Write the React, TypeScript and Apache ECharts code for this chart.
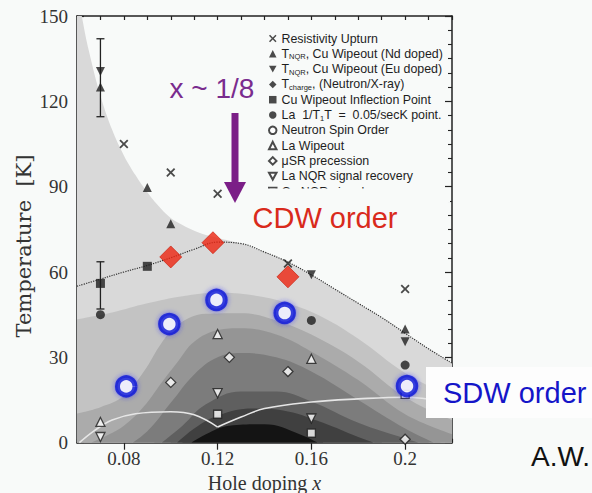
import React, { useEffect, useRef } from "react";
import * as echarts from "echarts";

// ---------- data ----------
const resistivityUpturn = [[0.08, 105], [0.10, 95], [0.12, 87.5], [0.15, 63], [0.20, 54]];
const nqrNdDoped = [[0.07, 125], [0.09, 89.7], [0.10, 77], [0.20, 40]];
const nqrEuDoped = [[0.07, 130.5], [0.16, 59], [0.20, 35.5]];
const tCharge: number[][] = [];
const cuWipeoutInflection = [[0.07, 56], [0.09, 62]];
const la1T1T = [[0.07, 45], [0.16, 43], [0.20, 27.3]];
const neutronSpinOrder: number[][] = [];
const laWipeout = [[0.07, 7.3], [0.12, 38.2], [0.16, 29.5]];
const muSR = [[0.10, 21.2], [0.125, 30], [0.15, 25], [0.20, 1.2]];
const laNqrRecovery = [[0.07, 2], [0.12, 17.4], [0.16, 8.5]];
const cuNqrRecovery = [[0.12, 10], [0.16, 3.4], [0.20, 17]];
const cdwPoints = [[0.10, 65.3], [0.118, 70.3], [0.15, 58.3]];
const sdwPoints = [[0.081, 19.8], [0.0994, 41.7], [0.1195, 50.2], [0.1486, 45.6], [0.2008, 19.9]];
const errorBars = [[0.07, 114.6, 142], [0.07, 47, 63.6]];

// phase-diagram band boundaries (upper edges), lightest to darkest
const lightRegionTop = [[0.06, 160], [0.0625, 148], [0.065, 138], [0.07, 122], [0.075, 110], [0.08, 101], [0.085, 94], [0.09, 88], [0.095, 83], [0.1, 79], [0.105, 76.5], [0.11, 74.5], [0.115, 73], [0.12, 72], [0.13, 70], [0.14, 67], [0.15, 63.5], [0.16, 59], [0.17, 54], [0.18, 49], [0.19, 44], [0.2, 38.5], [0.21, 33], [0.22, 28]];
const bandA = [[0.06, 43.4], [0.075, 45.8], [0.09, 49], [0.105, 51.5], [0.12, 52.7], [0.135, 51.8], [0.15, 49], [0.165, 44], [0.18, 36.5], [0.2, 24.5], [0.22, 16]];
const bandB = [[0.06, 10.3], [0.07, 12.5], [0.08, 16.5], [0.0885, 25], [0.096, 35], [0.103, 41.5], [0.115, 45.3], [0.13, 45.5], [0.145, 43], [0.16, 38], [0.18, 28.5], [0.2, 16], [0.22, 8]];
const bandC = [[0.06, -2], [0.07, 1.5], [0.08, 6], [0.0885, 12.7], [0.096, 21], [0.103, 28.5], [0.11, 35.5], [0.12, 39.5], [0.13, 40.2], [0.145, 38], [0.16, 32], [0.18, 22], [0.2, 10], [0.22, 3]];
const bandD = [[0.08, -2], [0.09, 4], [0.1, 14], [0.11, 24], [0.12, 30], [0.13, 31.5], [0.145, 30], [0.16, 25], [0.18, 15], [0.2, 5], [0.215, -1]];
const bandE = [[0.093, -2], [0.105, 6], [0.115, 13.5], [0.13, 18], [0.145, 18], [0.16, 14.5], [0.18, 7], [0.2, 1.5], [0.21, -1]];
const bandF = [[0.1, -2], [0.11, 5], [0.12, 9.5], [0.135, 12], [0.15, 11], [0.165, 7], [0.18, 2], [0.19, -1]];
const bandG = [[0.105, -2], [0.115, 3], [0.125, 6], [0.14, 6.5], [0.155, 3], [0.165, -1]];
const dottedLine = [[0.06, 55], [0.07, 57.5], [0.08, 60], [0.09, 62.3], [0.1, 65], [0.11, 68], [0.12, 70.5], [0.13, 70], [0.14, 67], [0.15, 63.5], [0.16, 59], [0.17, 54], [0.18, 49], [0.19, 44], [0.2, 38.5], [0.21, 33], [0.22, 28]];
const whiteLineLeft = [[0.061, 0], [0.067, 4], [0.075, 8], [0.085, 10.2], [0.1, 10.9], [0.11, 9.8], [0.12, 5.5]];
const whiteLineRight = [[0.12, 5.5], [0.13, 9], [0.14, 12], [0.16, 14.3], [0.18, 15.4], [0.2, 16], [0.21, 15.4], [0.22, 14.5]];

const xLabelTicks = [0.08, 0.12, 0.16, 0.2];
const yLabelStep = 30;

const BG = "#f8faf9";
const INK = "#1e1e1e";

const legendNames = [
  "Resistivity Upturn",
  "TNQR, Cu Wipeout (Nd doped)",
  "TNQR, Cu Wipeout (Eu doped)",
  "Tcharge, (Neutron/X-ray)",
  "Cu Wipeout Inflection Point",
  "La 1/T1T = 0.05/secK point.",
  "Neutron Spin Order",
  "La Wipeout",
  "μSR precession",
  "La NQR signal recovery",
  "Cu NQR signal recovery",
];
const legendRichText: Record<string, string> = {
  "TNQR, Cu Wipeout (Nd doped)": "{n|T}{s|NQR}{n|, Cu Wipeout (Nd doped)}",
  "TNQR, Cu Wipeout (Eu doped)": "{n|T}{s|NQR}{n|, Cu Wipeout (Eu doped)}",
  "Tcharge, (Neutron/X-ray)": "{n|T}{s|charge}{n|, (Neutron/X-ray)}",
  "La 1/T1T = 0.05/secK point.": "{n|La  1/T}{s|1}{n|T  =  0.05/secK point.}",
};

const crossPath = "path://M0,1.4L1.4,0L5,3.6L8.6,0L10,1.4L6.4,5L10,8.6L8.6,10L5,6.4L1.4,10L0,8.6L3.6,5Z";
const downTri = "path://M0,0L10,0L5,9Z";

export default function App() {
  const ref = useRef<HTMLDivElement>(null);
  useEffect(() => {
    if (!ref.current) return;
    const chart = echarts.init(ref.current, null, { renderer: "svg" });
    const filled = { color: INK };
    const open = { color: "#ffffff", borderColor: INK, borderWidth: 1.3 };
    const sc = (name: string, data: number[][], symbol: string, itemStyle: any, size = 8) => ({
      type: "scatter", name, data, symbol, symbolSize: size, itemStyle, z: 6,
    });
    const band = (data: number[][], color: string, z: number) => ({
      type: "line", data, smooth: 0.4, showSymbol: false, symbol: "none",
      lineStyle: { width: 0 }, areaStyle: { color, opacity: 1, origin: "start" }, z, silent: true,
    });
    const axisLine = { onZero: false, lineStyle: { color: "#222", width: 1.5 } };
    const option: any = {
      animation: false,
      backgroundColor: BG,
      grid: { left: 77, right: 140, top: 16, bottom: 50.3, containLabel: false, outerBoundsMode: "none" },
      xAxis: [
        {
          type: "value", min: 0.06, max: 0.22, interval: 0.01, position: "bottom",
          axisLine, splitLine: { show: false },
          axisTick: { inside: true, length: 4, lineStyle: { color: "#222", width: 1.2 } },
          axisLabel: {
            margin: 6, fontSize: 19, fontFamily: "Liberation Serif", color: "#333",
            formatter: (v: number) => {
              const r = Math.round(v * 100);
              return xLabelTicks.some((t) => Math.round(t * 100) === r) ? String(r / 100) : "";
            },
          },
          name: "Hole doping {i|x}", nameLocation: "middle", nameGap: 27,
          nameTextStyle: { fontSize: 20, fontFamily: "Liberation Serif", color: "#333",
            rich: { i: { fontSize: 20, fontFamily: "Liberation Serif", fontStyle: "italic", color: "#333" } } },
        },
        {
          type: "value", min: 0.06, max: 0.22, interval: 0.01, position: "top",
          axisLine, splitLine: { show: false }, axisLabel: { show: false },
          axisTick: { inside: true, length: 4, lineStyle: { color: "#222", width: 1.2 } },
        },
        {
          type: "value", min: 0.06, max: 0.22, position: "bottom",
          axisLine: { show: false }, splitLine: { show: false }, axisLabel: { show: false },
          axisTick: { inside: true, length: 7, customValues: xLabelTicks, lineStyle: { color: "#222", width: 1.2 } },
        },
        {
          type: "value", min: 0.06, max: 0.22, position: "top",
          axisLine: { show: false }, splitLine: { show: false }, axisLabel: { show: false },
          axisTick: { inside: true, length: 7, customValues: xLabelTicks, lineStyle: { color: "#222", width: 1.2 } },
        },
      ],
      yAxis: [
        {
          type: "value", min: 0, max: 150, interval: yLabelStep, position: "left",
          axisLine, splitLine: { show: false },
          axisTick: { inside: true, length: 7, lineStyle: { color: "#222", width: 1.2 } },
          minorTick: { show: true, splitNumber: 6, length: 4, lineStyle: { color: "#222", width: 1.1 } },
          axisLabel: { margin: 9, fontSize: 19, fontFamily: "Liberation Serif", color: "#333" },
        },
        {
          type: "value", min: 0, max: 150, interval: yLabelStep, position: "right",
          axisLine, splitLine: { show: false }, axisLabel: { show: false },
          axisTick: { inside: true, length: 7, lineStyle: { color: "#222", width: 1.2 } },
          minorTick: { show: true, splitNumber: 6, length: 4, lineStyle: { color: "#222", width: 1.1 } },
        },
      ],
      legend: {
        data: legendNames, orient: "vertical", left: 263, top: 26.5, itemWidth: 7.5, itemHeight: 7.5, itemGap: 1.3,
        selectedMode: false,
        formatter: (name: string) => legendRichText[name] ?? `{n|${name}}`,
        textStyle: {
          fontSize: 12.4, fontFamily: "Liberation Sans", color: INK, lineHeight: 14, padding: [0, 0, 0, 0],
          rich: {
            n: { fontSize: 12.4, fontFamily: "Liberation Sans", color: INK, lineHeight: 14, verticalAlign: "middle" },
            s: { fontSize: 7.5, fontFamily: "Liberation Sans", color: INK, lineHeight: 14, verticalAlign: "bottom" },
          },
        },
      },
      series: [
        band(lightRegionTop, "#d9d9d9", 1),
        band(bandA, "#c3c3c3", 1),
        band(bandB, "#ababab", 1),
        band(bandC, "#959595", 1),
        band(bandD, "#7c7c7c", 1),
        band(bandE, "#5f5f5f", 1),
        band(bandF, "#404040", 1),
        band(bandG, "#141414", 1),
        { type: "line", data: dottedLine, smooth: 0.4, showSymbol: false, symbol: "none",
          lineStyle: { color: "#333", width: 1.2, type: "dotted" }, z: 3, silent: true },
        { type: "line", data: whiteLineLeft, smooth: 0.4, showSymbol: false, symbol: "none",
          lineStyle: { color: "#e6e6e6", width: 1.6 }, z: 3, silent: true },
        { type: "line", data: whiteLineRight, smooth: 0.4, showSymbol: false, symbol: "none",
          lineStyle: { color: "#e6e6e6", width: 1.6 }, z: 3, silent: true },
        {
          type: "custom", data: errorBars, z: 5, silent: true,
          encode: { x: 0, y: [1, 2] },
          renderItem: (_p: any, api: any) => {
            const x = api.value(0), lo = api.value(1), hi = api.value(2);
            const a = api.coord([x, hi]);
            const b = api.coord([x, lo]);
            const w = 4;
            const st = { stroke: "#222", lineWidth: 1.3 };
            return {
              type: "group",
              children: [
                { type: "line", shape: { x1: a[0], y1: a[1], x2: b[0], y2: b[1] }, style: st },
                { type: "line", shape: { x1: a[0] - w, y1: a[1], x2: a[0] + w, y2: a[1] }, style: st },
                { type: "line", shape: { x1: b[0] - w, y1: b[1], x2: b[0] + w, y2: b[1] }, style: st },
              ],
            };
          },
        },
        sc(legendNames[0], resistivityUpturn, crossPath, filled, 9),
        sc(legendNames[1], nqrNdDoped, "triangle", filled, 9),
        sc(legendNames[2], nqrEuDoped, downTri, filled, 9),
        sc(legendNames[3], tCharge, "diamond", filled, 9),
        sc(legendNames[4], cuWipeoutInflection, "rect", filled, 9),
        sc(legendNames[5], la1T1T, "circle", filled, 9),
        sc(legendNames[6], neutronSpinOrder, "circle", open, 8),
        sc(legendNames[7], laWipeout, "triangle", open, 9),
        sc(legendNames[8], muSR, "diamond", open, 10),
        sc(legendNames[9], laNqrRecovery, downTri, open, 9),
        sc(legendNames[10], cuNqrRecovery, "rect", open, 8),
        {
          type: "scatter", name: "CDW", data: cdwPoints, symbol: "diamond", symbolSize: 22, z: 8,
          itemStyle: { color: "#ec2410", borderColor: "#c81a08", borderWidth: 0.8 },
        },
        {
          type: "scatter", name: "SDW", data: sdwPoints, symbol: "circle", symbolSize: 17.5, z: 8,
          itemStyle: { color: "#ffffff", borderColor: "#0a14d6", borderWidth: 5, shadowBlur: 5, shadowColor: "rgba(40,40,255,0.7)" },
        },
      ],
      graphic: [
        { type: "rect", z: 100, shape: { x: 250, y: 188.5, width: 200, height: 14 }, style: { fill: BG } },
        { type: "text", z: 101, x: 24, y: 246, rotation: Math.PI / 2,
          style: { text: "Temperature  [K]", font: "21px 'DejaVu Serif'", fill: "#333", textAlign: "center", textVerticalAlign: "middle" } },
        { type: "text", z: 101, x: 212, y: 88,
          style: { text: "x ~ 1/8", font: "28px 'Liberation Sans'", fill: "#7a2c8e", textAlign: "center", textVerticalAlign: "middle" } },
        { type: "rect", z: 101, shape: { x: 231.5, y: 113, width: 7, height: 72 }, style: { fill: "#7b1e87" } },
        { type: "polygon", z: 101, shape: { points: [[224, 182], [246, 182], [235, 203]] }, style: { fill: "#7b1e87" } },
        { type: "text", z: 101, x: 325, y: 218,
          style: { text: "CDW order", font: "29px 'Liberation Sans'", fill: "#d92a1c", textAlign: "center", textVerticalAlign: "middle" } },
        { type: "rect", z: 102, shape: { x: 426, y: 367, width: 170, height: 51 }, style: { fill: "#fdfdfd" } },
        { type: "text", z: 103, x: 443, y: 393,
          style: { text: "SDW order", font: "29px 'Liberation Sans'", fill: "#1515c8", textAlign: "left", textVerticalAlign: "middle" } },
        { type: "text", z: 101, x: 531, y: 456,
          style: { text: "A.W.", font: "28px 'Liberation Sans'", fill: "#111", textAlign: "left", textVerticalAlign: "middle" } },
      ],
    };
    chart.setOption(option);
    return () => chart.dispose();
  }, []);
  return (
    <div style={{ position: "fixed", left: 0, top: 0, width: 592, height: 493, background: BG }}>
      <div ref={ref} style={{ width: 592, height: 493 }} />
    </div>
  );
}
